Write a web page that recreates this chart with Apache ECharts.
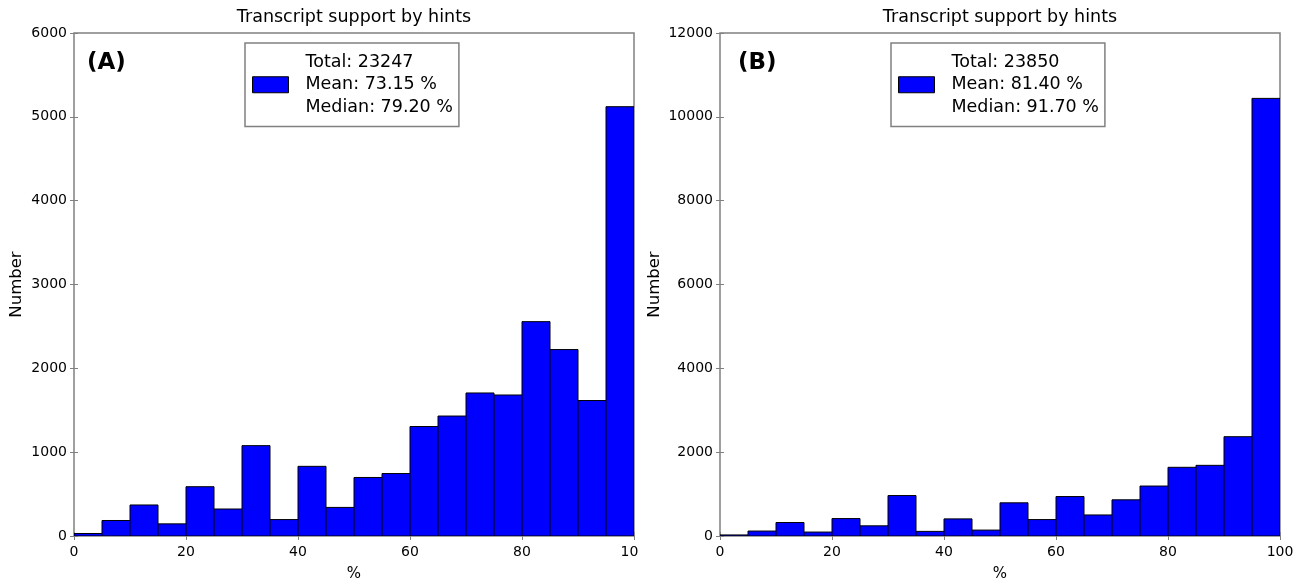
<!DOCTYPE html>
<html>
<head>
<meta charset="utf-8">
<script src="https://cdn.jsdelivr.net/npm/echarts@6/dist/echarts.min.js"></script>
<style>
html,body{margin:0;padding:0;background:#fff;}
#chart{width:1304px;height:587px;}
</style>
</head>
<body>
<div id="chart"></div>
<script>
// ---- data ----
const binStarts = [0,5,10,15,20,25,30,35,40,45,50,55,60,65,70,75,80,85,90,95];
const binEnds   = [5,10,15,20,25,30,35,40,45,50,55,60,65,70,75,80,85,90,95,100];
const countsA = [30,185,370,145,588,322,1078,196,831,341,698,745,1306,1431,1706,1682,2557,2224,1616,5121];
const countsB = [25,118,322,94,416,243,965,110,408,141,792,392,941,502,863,1192,1639,1686,2369,10440];
const xTicks = [0,20,40,60,80,100];
const xTickLabelsA = ['0','20','40','60','80','10'];   // last label is cropped in the source figure
const xTickLabelsB = ['0','20','40','60','80','100'];
const yTicksA = [0,1000,2000,3000,4000,5000,6000];
const yTicksB = [0,2000,4000,6000,8000,10000,12000];
const panelTitles = ['Transcript support by hints','Transcript support by hints'];
const panelTags = ['(A)','(B)'];
const legendA = ['Total: 23247','Mean: 73.15 %','Median: 79.20 %'];
const legendB = ['Total: 23850','Mean: 81.40 %','Median: 91.70 %'];
const xAxisName = '%';
const yAxisName = 'Number';

// ---- styling ----
const FONT = 'DejaVu Sans';
const FRAME = '#808080';
const grids = [
  {left:74, right:670, top:33, bottom:45},
  {left:720, right:24, top:33, bottom:45}
];

function makeData(counts){
  return binStarts.map((s,i)=>[s, binEnds[i], counts[i]]);
}
function renderBin(params, api){
  const p0 = api.coord([api.value(0), 0]);
  const p1 = api.coord([api.value(1), api.value(2)]);
  return {
    type:'rect',
    shape:{x:p0[0], y:p1[1], width:p1[0]-p0[0], height:p0[1]-p1[1]},
    style:{fill:'#0000ff', stroke:'#000000', lineWidth:1}
  };
}

function xAxes(gridIndex, labels){
  const base = {
    type:'value', gridIndex, min:xTicks[0], max:xTicks[xTicks.length-1],
    interval:xTicks[1]-xTicks[0],
    axisLine:{show:false}, splitLine:{show:false},
    axisTick:{show:true, inside:true, length:4, lineStyle:{color:FRAME, width:1}}
  };
  return [
    Object.assign({}, base, {
      position:'bottom',
      name:xAxisName, nameLocation:'middle', nameGap:31,
      nameTextStyle:{fontFamily:FONT, fontSize:15, color:'#000'},
      axisLabel:{show:true, margin:9, fontFamily:FONT, fontSize:14, color:'#000',
        formatter:(v)=>{
          const i = xTicks.indexOf(v);
          if (i < 0) return '';
          const t = labels[i];
          if (t !== String(v)) return '{c|' + t + '}';
          return t;
        },
        rich:{c:{fontFamily:FONT, fontSize:14, color:'#000', padding:[0,9,0,0]}}
      }
    }),
    Object.assign({}, base, {position:'top', axisLabel:{show:false}})
  ];
}
function yAxes(gridIndex, ticks){
  const base = {
    type:'value', gridIndex, min:ticks[0], max:ticks[ticks.length-1],
    interval:ticks[1]-ticks[0],
    axisLine:{show:false}, splitLine:{show:false},
    axisTick:{show:true, inside:true, length:4, lineStyle:{color:FRAME, width:1}}
  };
  return [
    Object.assign({}, base, {
      position:'left',
      name:yAxisName, nameLocation:'middle', nameGap: gridIndex===0 ? 49 : 57,
      nameTextStyle:{fontFamily:FONT, fontSize:16.5, color:'#000'},
      axisLabel:{show:true, margin:7, fontFamily:FONT, fontSize:14, color:'#000',
        formatter:(v)=>String(v)}
    }),
    Object.assign({}, base, {position:'right', axisLabel:{show:false}})
  ];
}

const xa0 = xAxes(0, xTickLabelsA), xa1 = xAxes(1, xTickLabelsB);
const ya0 = yAxes(0, yTicksA), ya1 = yAxes(1, yTicksB);

const chart = echarts.init(document.getElementById('chart'), null, {renderer:'canvas'});
const nameA = legendA.join('\n');
const nameB = legendB.join('\n');

function legendCfg(left, name){
  return {
    left:left, top:43, orient:'vertical',
    data:[name],
    icon:'rect', itemWidth:36, itemHeight:16,
    padding:[8,6,8,7],
    borderColor:FRAME, borderWidth:1.5, backgroundColor:'#fff',
    selectedMode:false,
    itemStyle:{borderColor:'#000', borderWidth:1},
    textStyle:{fontFamily:FONT, fontSize:17.5, color:'#000', lineHeight:22.5, padding:[0,0,0,12]}
  };
}

chart.setOption({
  animation:false,
  backgroundColor:'#fff',
  grid: grids.map(g=>Object.assign({show:true, borderColor:FRAME, borderWidth:1.5, backgroundColor:'transparent'}, g)),
  title:[
    {text:panelTitles[0], left:354, top:8, padding:0, textAlign:'center',
     textStyle:{fontFamily:FONT, fontSize:17.5, fontWeight:'normal', color:'#000'}},
    {text:panelTitles[1], left:1000, top:8, padding:0, textAlign:'center',
     textStyle:{fontFamily:FONT, fontSize:17.5, fontWeight:'normal', color:'#000'}},
    {text:panelTags[0], left:87, top:52, padding:0,
     textStyle:{fontFamily:FONT, fontSize:23, fontWeight:'bold', color:'#000'}},
    {text:panelTags[1], left:738, top:52, padding:0,
     textStyle:{fontFamily:FONT, fontSize:23, fontWeight:'bold', color:'#000'}}
  ],
  legend:[legendCfg(245, nameA), legendCfg(891, nameB)],
  xAxis:[xa0[0], xa0[1], xa1[0], xa1[1]],
  yAxis:[ya0[0], ya0[1], ya1[0], ya1[1]],
  series:[
    {type:'custom', name:nameA, xAxisIndex:0, yAxisIndex:0, renderItem:renderBin,
     itemStyle:{color:'#0000ff'}, encode:{x:[0,1], y:2}, data:makeData(countsA), clip:true},
    {type:'custom', name:nameB, xAxisIndex:2, yAxisIndex:2, renderItem:renderBin,
     itemStyle:{color:'#0000ff'}, encode:{x:[0,1], y:2}, data:makeData(countsB), clip:true}
  ]
});
</script>
</body>
</html>
